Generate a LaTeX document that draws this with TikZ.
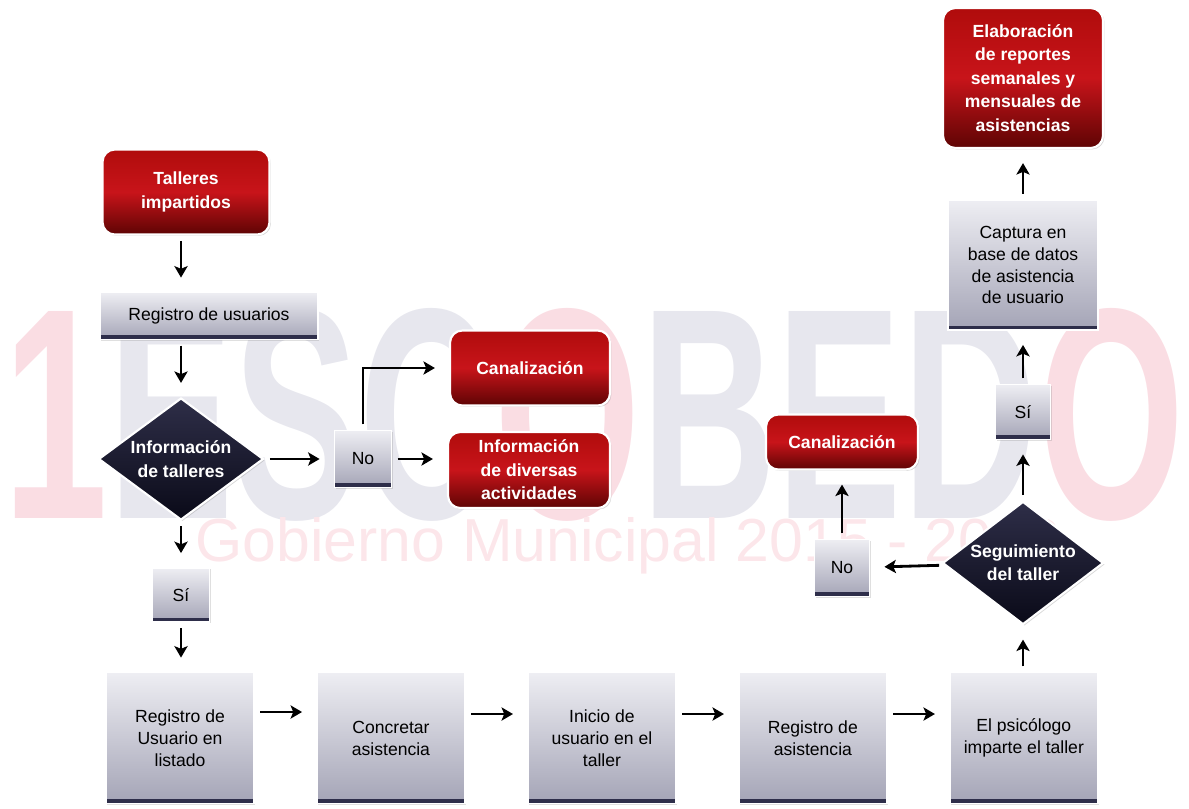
\documentclass[tikz,border=0pt]{standalone}
\usepackage{fontspec}
\setmainfont{Liberation Sans}
\usepackage{graphicx}
\usetikzlibrary{arrows.meta,positioning,shapes.geometric,shadows}

\definecolor{redtop}{HTML}{B00C0C}
\definecolor{redmid}{HTML}{C8141A}
\definecolor{redbot}{HTML}{5E0404}
\definecolor{graytop}{HTML}{EEEEF3}
\definecolor{graybot}{HTML}{A4A4B6}
\definecolor{grayedge}{HTML}{2E2E4A}
\definecolor{navytop}{HTML}{2E2E48}
\definecolor{navybot}{HTML}{0A0A18}
\definecolor{wmgray}{HTML}{E7E7EE}
\definecolor{wmpink}{HTML}{FADDE3}
\definecolor{wmpink2}{HTML}{FCE6EA}

\tikzset{
  redbox/.style={rectangle, rounded corners=7pt, draw=white, line width=1.2pt,
    top color=redtop, bottom color=redbot, middle color=redmid, text=white,
    font=\fontsize{10}{13.3}\selectfont\bfseries, align=center,
    drop shadow={shadow xshift=0.8pt, shadow yshift=-0.8pt, opacity=0.3}},
  graybox/.style={rectangle, draw=white, line width=1pt,
    top color=graytop, bottom color=graybot,
    font=\fontsize{10}{12.5}\selectfont, align=center,
    path picture={\fill[grayedge] ([yshift=2.5pt]path picture bounding box.south west)
      rectangle (path picture bounding box.south east);},
    drop shadow={shadow xshift=0.8pt, shadow yshift=-0.8pt, opacity=0.25}},
  decision/.style={diamond, aspect=1.35, inner sep=0pt, draw=white, line width=1.2pt,
    top color=navytop, bottom color=navybot, text=white,
    font=\fontsize{10}{13.3}\selectfont\bfseries, align=center,
    drop shadow={shadow xshift=0.8pt, shadow yshift=-0.8pt, opacity=0.3}},
  flow/.style={-{Stealth[length=6.5pt,width=7.5pt,inset=1.5pt]}, line width=1.6pt,
    shorten <=3pt, shorten >=8pt},
}

\begin{document}
\begin{tikzpicture}[x=0.02cm,y=-0.02cm,node distance=4.22cm]
        \useasboundingbox (0,0) rectangle (1189,808);

        \node[inner sep=0pt,text=wmgray] (wm1) at (594,415)
              {\resizebox{23.6cm}{4.2cm}{\bfseries\textcolor{wmpink}{1}ESC\textcolor{wmpink}{O}BED\textcolor{wmpink}{O}}};
        \node[inner sep=0pt,text=wmpink2,anchor=west] (wm2) at (195,546)
              {\resizebox{17.3cm}{!}{Gobierno Municipal 2015 - 2018}};

        \node[redbox, minimum width=3.34cm, minimum height=1.7cm]   (talleres) at (186,192)  {Talleres\\impartidos};
        \node[graybox, minimum width=4.36cm, minimum height=0.94cm] (registro) at (209,316)  {Registro de usuarios};
        \node[decision, minimum width=3.3cm, minimum height=2.44cm] (infotall) at (181,459)  {Información\\de talleres};
        \node[graybox, minimum width=1.14cm, minimum height=1.14cm] (no1)      at (363,459)  {No};
        \node[redbox, minimum width=3.2cm, minimum height=1.5cm]    (canal1)   at (530,368)  {Canalización};
        \node[redbox, minimum width=3.24cm, minimum height=1.52cm]  (infodiv)  at (529,470)  {Información\\de diversas\\actividades};
        \node[graybox, minimum width=1.14cm, minimum height=1.08cm] (si1)      at (181,595)  {Sí};

        \node[graybox, minimum width=2.96cm, minimum height=2.62cm] (b1)       at (180,738)  {Registro de\\Usuario en\\listado};
        \node[graybox, minimum width=2.96cm, minimum height=2.62cm] (b2) [right of=b1]       {Concretar\\asistencia};
        \node[graybox, minimum width=2.96cm, minimum height=2.62cm] (b3) [right of=b2]       {Inicio de\\usuario en el\\taller};
        \node[graybox, minimum width=2.96cm, minimum height=2.62cm] (b4) [right of=b3]       {Registro de\\asistencia};
        \node[graybox, minimum width=2.96cm, minimum height=2.62cm] (b5) [right of=b4]       {El psicólogo\\imparte el taller};

        \node[decision, minimum width=3.22cm, minimum height=2.46cm] (segui)   at (1023,563) {Seguimiento\\del taller};
        \node[graybox, minimum width=1.1cm, minimum height=1.14cm]  (no2)      at (842,568)  {No};
        \node[redbox, minimum width=3.04cm, minimum height=1.1cm]   (canal2)   at (842,442)  {Canalización};
        \node[graybox, minimum width=1.1cm, minimum height=1.1cm]   (si2)      at (1023,412) {Sí};
        \node[graybox, minimum width=3cm, minimum height=2.6cm]     (captura)  at (1023,265) {Captura en\\base de datos\\de asistencia\\de usuario};
        \node[redbox, minimum width=3.2cm, minimum height=2.8cm]    (elabora)  at (1023,78)  {Elaboración\\de reportes\\semanales y\\mensuales de\\asistencias};

        \path[flow]
                  (talleres.south -| infotall) edge (registro.north -| infotall)
                  (registro.south -| infotall) edge (infotall)
                  (infotall) edge (no1)
                  (no1.east) edge (no1.east -| infodiv.west)
                  (infotall) edge (si1)
                  (si1) edge (b1.north -| si1)
                  ([yshift=0.52cm]b1.east) edge ([yshift=0.52cm]b2.west)
                  ([yshift=0.48cm]b2.east) edge ([yshift=0.48cm]b3.west)
                  ([yshift=0.48cm]b3.east) edge ([yshift=0.48cm]b4.west)
                  ([yshift=0.48cm]b4.east) edge ([yshift=0.48cm]b5.west)
                  (b5.north -| segui) edge (segui)
                  (segui) edge (no2)
                  (no2) edge (canal2)
                  (segui) edge (si2)
                  (si2) edge (captura)
                  (captura) edge (elabora);
        \draw[flow] (no1.north) |- (canal1.west);
\end{tikzpicture}
\end{document}
